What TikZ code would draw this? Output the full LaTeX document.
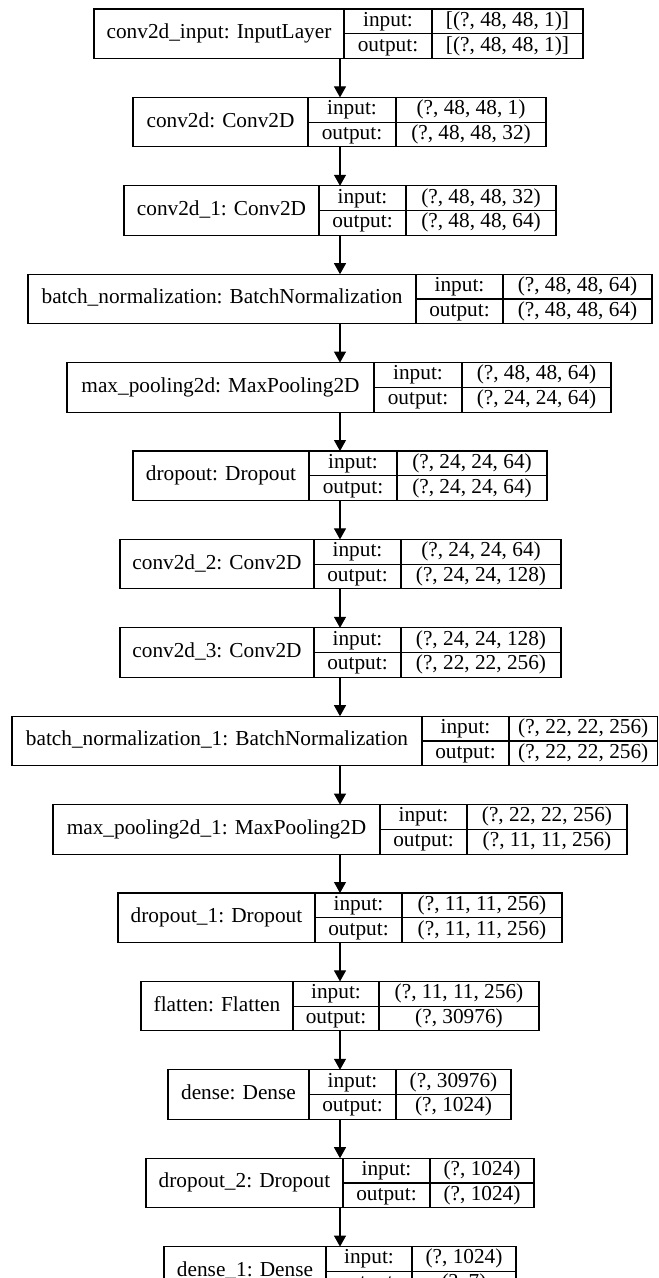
\documentclass[tikz,border=0pt]{standalone}
\usepackage{fontspec}
\setmainfont{Liberation Serif}
\usetikzlibrary{arrows.meta}
\tikzset{
  cell/.style={draw, line width=1.1pt, inner sep=0pt, outer sep=0pt, text height=14.6pt, text depth=4.6pt},
  titlecell/.style={cell, minimum height=49.5pt},
  halfcell/.style={cell, minimum height=24.75pt},
  flow/.style={line width=1.1pt, -{Triangle[length=11pt,width=12pt]}}
}
% one keras layer: name, left, split1, split2, right, top, title, input shape, output shape
\newcommand{\kerasbox}[9]{%
  \node[titlecell, minimum width={(#3-#2)*1pt}] (#1) at ({(#2+#3)/2},{#6+24.75}) {#7};
  \node[halfcell, minimum width={(#4-#3)*1pt}] (#1-il) at ({(#3+#4)/2},{#6+12.375}) {input:};
  \node[halfcell, minimum width={(#4-#3)*1pt}] (#1-ol) at ({(#3+#4)/2},{#6+37.125}) {output:};
  \node[halfcell, minimum width={(#5-#4)*1pt}] (#1-iv) at ({(#4+#5)/2},{#6+12.375}) {#8};
  \node[halfcell, minimum width={(#5-#4)*1pt}] (#1-ov) at ({(#4+#5)/2},{#6+37.125}) {#9};
}
\begin{document}
\begin{tikzpicture}[x=1pt, y=-1pt, font=\fontsize{21.3}{25}\selectfont]
\useasboundingbox (0,0) rectangle (659,1278);
\clip (0,0) rectangle (659,1278);
\coordinate (axis) at (340,0);
\kerasbox{input}{94}{344}{432}{583}{9}{conv2d\_input: InputLayer}{[(?, 48, 48, 1)]}{[(?, 48, 48, 1)]}
\kerasbox{conv0}{133}{308}{396}{546}{97.4}{conv2d: Conv2D}{(?, 48, 48, 1)}{(?, 48, 48, 32)}
\kerasbox{conv1}{124}{319}{406}{556}{185.8}{conv2d\_1: Conv2D}{(?, 48, 48, 32)}{(?, 48, 48, 64)}
\kerasbox{bn0}{28}{416}{503}{652}{274.2}{batch\_normalization: BatchNormalization}{(?, 48, 48, 64)}{(?, 48, 48, 64)}
\kerasbox{pool0}{67}{374}{462}{611}{362.6}{max\_pooling2d: MaxPooling2D}{(?, 48, 48, 64)}{(?, 24, 24, 64)}
\kerasbox{drop0}{133}{309}{397}{547}{451}{dropout: Dropout}{(?, 24, 24, 64)}{(?, 24, 24, 64)}
\kerasbox{conv2}{120}{314}{401}{561}{539.4}{conv2d\_2: Conv2D}{(?, 24, 24, 64)}{(?, 24, 24, 128)}
\kerasbox{conv3}{120}{314}{401}{561}{627.8}{conv2d\_3: Conv2D}{(?, 24, 24, 128)}{(?, 22, 22, 256)}
\kerasbox{bn1}{12}{422}{509}{657.5}{716.2}{batch\_normalization\_1: BatchNormalization}{(?, 22, 22, 256)}{(?, 22, 22, 256)}
\kerasbox{pool1}{53}{380}{467}{627}{804.6}{max\_pooling2d\_1: MaxPooling2D}{(?, 22, 22, 256)}{(?, 11, 11, 256)}
\kerasbox{drop1}{118}{315}{402}{562}{893}{dropout\_1: Dropout}{(?, 11, 11, 256)}{(?, 11, 11, 256)}
\kerasbox{flat}{141}{293}{379}{539}{981.4}{flatten: Flatten}{(?, 11, 11, 256)}{(?, 30976)}
\kerasbox{dense0}{168}{309}{396}{511}{1069.8}{dense: Dense}{(?, 30976)}{(?, 1024)}
\kerasbox{drop2}{146}{343}{430}{534}{1158.2}{dropout\_2: Dropout}{(?, 1024)}{(?, 1024)}
\kerasbox{dense1}{164}{326}{412}{516}{1246.6}{dense\_1: Dense}{(?, 1024)}{(?, 7)}
% connectors
\draw[flow] (input.south -| axis) -- (conv0.north -| axis);
\draw[flow] (conv0.south -| axis) -- (conv1.north -| axis);
\draw[flow] (conv1.south -| axis) -- (bn0.north -| axis);
\draw[flow] (bn0.south -| axis) -- (pool0.north -| axis);
\draw[flow] (pool0.south -| axis) -- (drop0.north -| axis);
\draw[flow] (drop0.south -| axis) -- (conv2.north -| axis);
\draw[flow] (conv2.south -| axis) -- (conv3.north -| axis);
\draw[flow] (conv3.south -| axis) -- (bn1.north -| axis);
\draw[flow] (bn1.south -| axis) -- (pool1.north -| axis);
\draw[flow] (pool1.south -| axis) -- (drop1.north -| axis);
\draw[flow] (drop1.south -| axis) -- (flat.north -| axis);
\draw[flow] (flat.south -| axis) -- (dense0.north -| axis);
\draw[flow] (dense0.south -| axis) -- (drop2.north -| axis);
\draw[flow] (drop2.south -| axis) -- (dense1.north -| axis);
\end{tikzpicture}
\end{document}
